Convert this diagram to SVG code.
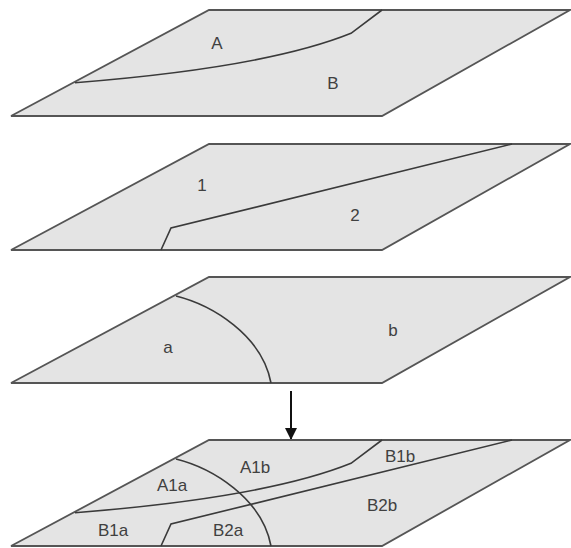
<svg xmlns="http://www.w3.org/2000/svg" width="571" height="548" viewBox="0 0 571 548">
<style>
.plane{fill:#e4e4e4;stroke:#555;stroke-width:1.8;stroke-linejoin:miter}
.bd{fill:none;stroke:#3a3a3a;stroke-width:1.6}
.lb{font-family:"Liberation Sans",Arial,sans-serif;font-size:17px;fill:#404040;text-anchor:middle}
</style>
<defs>
<polygon id="pg" points="209,0 570,0 382,106 11,106"/>
<path id="ab" d="M75,72.7 C160,66 280,52 351,23.3 L382,0"/>
<path id="l12" d="M161,106 L171,84 L512,0"/>
<path id="cab" d="M176,19 C212,28 262,58 271,106"/>
<marker id="ah" viewBox="0 0 12 12" refX="11" refY="6" markerWidth="12" markerHeight="12" markerUnits="userSpaceOnUse" orient="auto">
<path d="M0,0 L12,6 L0,12 Z" fill="#111"/>
</marker>
</defs>
<g id="layer1" transform="translate(0,10)">
<use href="#pg" class="plane"/>
<use href="#ab" class="bd"/>
<text class="lb" x="217" y="39">A</text>
<text class="lb" x="333" y="79">B</text>
</g>
<g id="layer2" transform="translate(0,144)">
<use href="#pg" class="plane"/>
<use href="#l12" class="bd"/>
<text class="lb" x="202" y="47">1</text>
<text class="lb" x="355" y="77">2</text>
</g>
<g id="layer3" transform="translate(0,277)">
<use href="#pg" class="plane"/>
<use href="#cab" class="bd"/>
<text class="lb" x="168" y="76">a</text>
<text class="lb" x="393" y="59">b</text>
</g>
<g id="connectors">
<line x1="291" y1="391" x2="291" y2="439" stroke="#111" stroke-width="2" marker-end="url(#ah)"/>
</g>
<g id="layer4" transform="translate(0,440)">
<use href="#pg" class="plane"/>
<use href="#ab" class="bd"/>
<use href="#l12" class="bd"/>
<use href="#cab" class="bd"/>
<text class="lb" x="172" y="51">A1a</text>
<text class="lb" x="255" y="33">A1b</text>
<text class="lb" x="400" y="22">B1b</text>
<text class="lb" x="382" y="71">B2b</text>
<text class="lb" x="113" y="96">B1a</text>
<text class="lb" x="228" y="96">B2a</text>
</g>
</svg>
